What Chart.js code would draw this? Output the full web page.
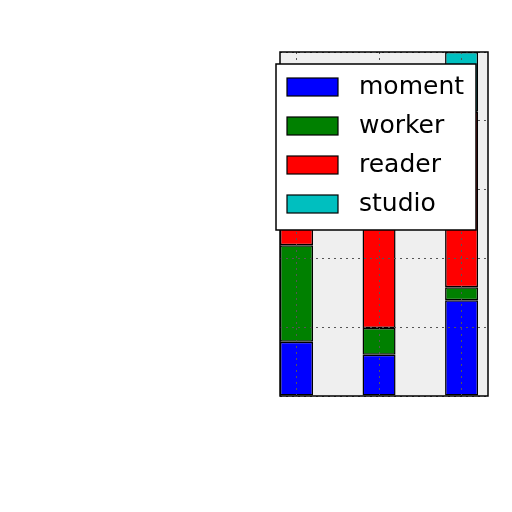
<!DOCTYPE html>
<html>
<head>
<meta charset="utf-8">
<script src="https://cdn.jsdelivr.net/npm/chart.js@4/dist/chart.umd.min.js"></script>
<style>
  html, body { margin: 0; padding: 0; background: #fff; }
  #wrap { width: 512px; height: 512px; position: relative; }
</style>
</head>
<body>
<div id="wrap"><canvas id="chart"></canvas></div>
<script>
// bar positions on the x axis and the four stacked series
const positions = [0, 1, 2];
const seriesNames = ["moment", "worker", "reader", "studio"];
const moment = [0.79, 0.60, 1.39];
const worker = [1.40, 0.39, 0.19];
const reader = [1.00, 2.10, 2.55];
const studio = [0.80, 0.90, 0.87];
const yTicks = [0, 1, 2, 3, 4, 5];

const colors = ["#0000ff", "#008000", "#ff0000", "#00bfbf"];
const values = [moment, worker, reader, studio];

const datasets = seriesNames.map((name, k) => ({
  label: name,
  data: values[k].map((v, i) => ({ x: positions[i], y: v })),
  backgroundColor: colors[k],
  borderColor: "#000",
  borderWidth: 1.5,
  borderSkipped: false,
  barPercentage: 0.4,
  categoryPercentage: 1.0,
}));

// plot background, frame and the boxed legend on top of the bars
const framePlugin = {
  id: "frame",
  beforeDatasetsDraw(chart) {
    const { ctx, chartArea: a } = chart;
    ctx.save();
    ctx.fillStyle = "#efefef";
    ctx.fillRect(a.left, a.top, a.right - a.left, a.bottom - a.top);
    ctx.restore();
  },
  afterDraw(chart) {
    const { ctx, chartArea: a } = chart;
    ctx.save();
    ctx.strokeStyle = "#000";
    ctx.lineWidth = 1.5;
    ctx.strokeRect(a.left, a.top, a.right - a.left, a.bottom - a.top);

    // legend box
    const bx = a.left - 4, by = a.top + 12, bw = 200, bh = 166;
    ctx.fillStyle = "#fff";
    ctx.fillRect(bx, by, bw, bh);
    ctx.strokeRect(bx, by, bw, bh);
    ctx.font = '25px "DejaVu Sans"';
    ctx.textBaseline = "middle";
    chart.data.datasets.forEach((ds, k) => {
      const cy = by + 23 + k * 39;
      ctx.fillStyle = ds.backgroundColor;
      ctx.fillRect(bx + 11, cy - 9, 51, 18);
      ctx.strokeStyle = "#000";
      ctx.lineWidth = 1.2;
      ctx.strokeRect(bx + 11, cy - 9, 51, 18);
      ctx.fillStyle = "#000";
      ctx.fillText(ds.label, bx + 83, cy);
    });
    ctx.restore();
  },
};

new Chart(document.getElementById("chart"), {
  type: "bar",
  data: { datasets },
  plugins: [framePlugin],
  options: {
    responsive: true,
    maintainAspectRatio: false,
    animation: false,
    devicePixelRatio: 1,
    layout: { padding: { left: 280, right: 24, top: 52, bottom: 116 } },
    plugins: { legend: { display: false }, tooltip: { enabled: false } },
    scales: {
      x: {
        type: "linear",
        stacked: true,
        offset: false,
        min: -0.2,
        max: 2.32,
        afterBuildTicks: (s) => { s.ticks = positions.map((v) => ({ value: v })); },
        ticks: { display: false },
        grid: { offset: false, drawTicks: false, color: "#555", lineWidth: 1, z: 1 },
        border: { display: false, dash: [2, 4] },
      },
      y: {
        stacked: true,
        min: yTicks[0],
        max: yTicks[yTicks.length - 1],
        afterBuildTicks: (s) => { s.ticks = yTicks.map((v) => ({ value: v })); },
        ticks: { display: false },
        grid: { drawTicks: false, color: "#555", lineWidth: 1, z: 1 },
        border: { display: false, dash: [2, 4] },
      },
    },
  },
});
</script>
</body>
</html>
